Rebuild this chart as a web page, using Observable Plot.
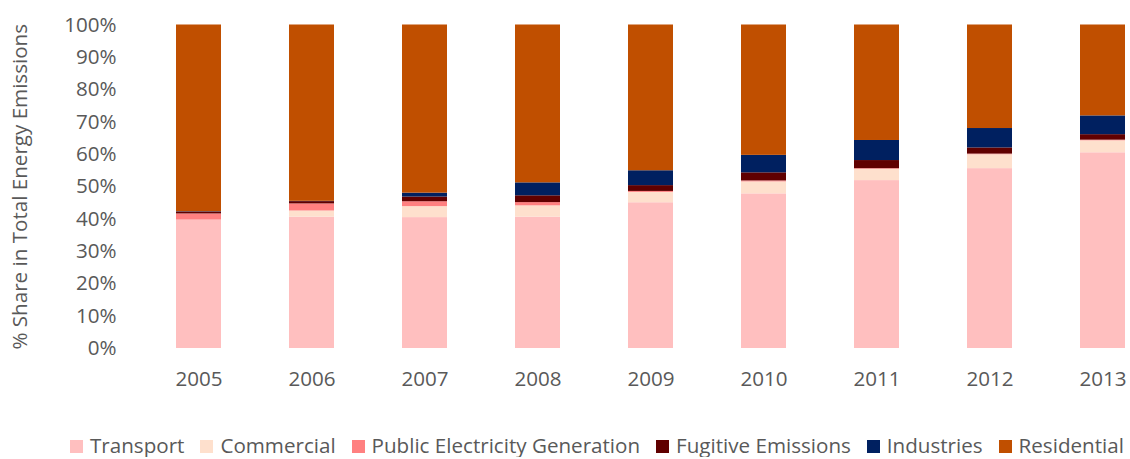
<!DOCTYPE html>
<html>
<head>
<meta charset="utf-8">
<script src="https://cdn.jsdelivr.net/npm/d3@7"></script>
<script src="https://cdn.jsdelivr.net/npm/@observablehq/plot@0.6"></script>
<style>
  body { margin: 0; background: #fff; font-family: "Open Sans", sans-serif; }
  #chart svg { display: block; }
  #legend { margin-top: 13px; display: flex; align-items: center; height: 24px; line-height: 24px; padding-left: 70px; font-size: 20.6px; color: #595959; white-space: nowrap; }
  #legend .item { display: flex; align-items: center; margin-right: 16px; }
  #legend .sw { width: 13px; height: 13px; margin-right: 7px; margin-top: 2px; }
</style>
</head>
<body>
<div id="chart"></div>
<div id="legend"></div>
<script>
const years = ["2005", "2006", "2007", "2008", "2009", "2010", "2011", "2012", "2013"];
const sectors = ["Transport", "Commercial", "Public Electricity Generation", "Fugitive Emissions", "Industries", "Residential"];
const colors = ["#ffbfbf", "#fee0cd", "#ff8080", "#600000", "#002060", "#c04f00"];
const transport   = [39.7, 40.6, 40.4, 40.6, 45.1, 47.8, 51.9, 55.6, 60.5];
const commercial  = [0.0, 1.9, 3.4, 3.5, 3.2, 3.7, 3.5, 4.3, 3.7];
const publicElec  = [1.9, 2.2, 1.5, 1.0, 0.3, 0.3, 0.2, 0.2, 0.2];
const fugitive    = [0.6, 0.7, 1.45, 2.1, 1.8, 2.5, 2.5, 1.9, 1.7];
const industries  = [0.1, 0.1, 1.2, 4.0, 4.6, 5.4, 6.2, 6.0, 5.8];
const residential = [57.7, 54.5, 51.9, 48.8, 45.1, 40.3, 35.7, 32.0, 28.1];
const yTicks = [0, 0.1, 0.2, 0.3, 0.4, 0.5, 0.6, 0.7, 0.8, 0.9, 1.0];

const series = [transport, commercial, publicElec, fugitive, industries, residential];
const data = [];
sectors.forEach((s, i) => years.forEach((y, j) => data.push({year: y, sector: s, value: series[i][j]})));

const chart = Plot.plot({
  width: 1130,
  height: 420,
  marginTop: 24.5,
  marginBottom: 72,
  marginLeft: 140,
  marginRight: 0,
  style: {fontFamily: "'Open Sans', sans-serif", fontSize: "20.6px", color: "#595959", background: "#fff"},
  x: {domain: years, range: [139.5, 1162], paddingInner: 0.6, paddingOuter: 0.3, label: null, tickSize: 0, tickPadding: 23},
  y: {domain: [0, 1], ticks: yTicks, tickFormat: d3.format(".0%"), tickSize: 0, tickPadding: 24,
      label: "% Share in Total Energy Emissions", labelAnchor: "center", labelArrow: "none", labelOffset: 128},
  color: {domain: sectors, range: colors},
  marks: [
    Plot.barY(data, Plot.stackY({x: "year", y: "value", fill: "sector", order: sectors, offset: "normalize"}))
  ]
});
document.getElementById("chart").appendChild(chart);

const legend = document.getElementById("legend");
sectors.forEach((s, i) => {
  const it = document.createElement("div");
  it.className = "item";
  it.innerHTML = `<span class="sw" style="background:${colors[i]}"></span><span>${s}</span>`;
  legend.appendChild(it);
});
</script>
</body>
</html>
